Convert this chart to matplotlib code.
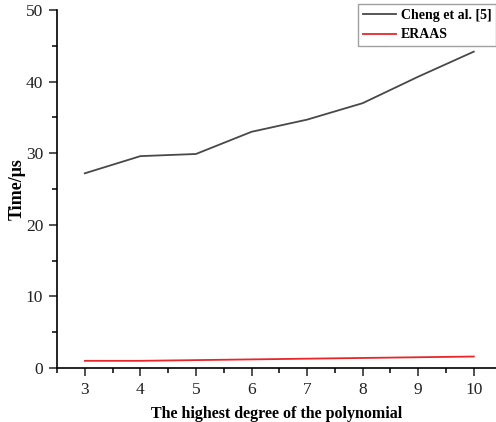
import matplotlib
matplotlib.use("Agg")
import matplotlib.pyplot as plt
from matplotlib.ticker import MultipleLocator

degrees = [3, 4, 5, 6, 7, 8, 9, 10]
cheng_times = [27.2, 29.6, 29.9, 33.0, 34.7, 37.0, 40.7, 44.2]
eraas_times = [1.0, 1.0, 1.1, 1.2, 1.3, 1.4, 1.5, 1.6]

plt.rcParams["font.family"] = ["Liberation Serif", "DejaVu Serif"]

fig = plt.figure(figsize=(4.96, 4.22), dpi=100)
ax = fig.add_axes([0.115, 0.128, 0.885, 0.848])

ax.plot(degrees, cheng_times, color="#484848", linewidth=1.3, label="Cheng et al. [5]")
ax.plot(degrees, eraas_times, color="#e8262a", linewidth=1.3, label="ERAAS")

ax.set_xlim(2.5, 10.4)
ax.set_ylim(0, 50)
ax.xaxis.set_major_locator(MultipleLocator(1))
ax.xaxis.set_minor_locator(MultipleLocator(0.5))
ax.yaxis.set_major_locator(MultipleLocator(10))
ax.yaxis.set_minor_locator(MultipleLocator(5))
ax.tick_params(which="major", direction="out", length=6, width=1.1, labelsize=12.5,
               colors="#222222", pad=4)
ax.tick_params(which="minor", direction="out", length=3.5, width=1.1)

for side in ("top", "right"):
    ax.spines[side].set_visible(False)
for side in ("left", "bottom"):
    ax.spines[side].set_linewidth(1.2)

ax.set_xlabel("The highest degree of the polynomial", fontsize=11.5, fontweight="bold", labelpad=6)
ax.set_ylabel("Time/μs", fontsize=13, fontweight="bold", labelpad=0)

leg = ax.legend(loc="upper right", bbox_to_anchor=(1.0, 1.018),
                prop={"weight": "bold", "size": 10}, frameon=True, fancybox=False,
                handlelength=2.4, handletextpad=0.3, borderpad=0.35, labelspacing=0.5,
                borderaxespad=0.0)
leg.get_frame().set_edgecolor("#888888")
leg.get_frame().set_linewidth(1.0)

fig.savefig("out.png", dpi=100)
